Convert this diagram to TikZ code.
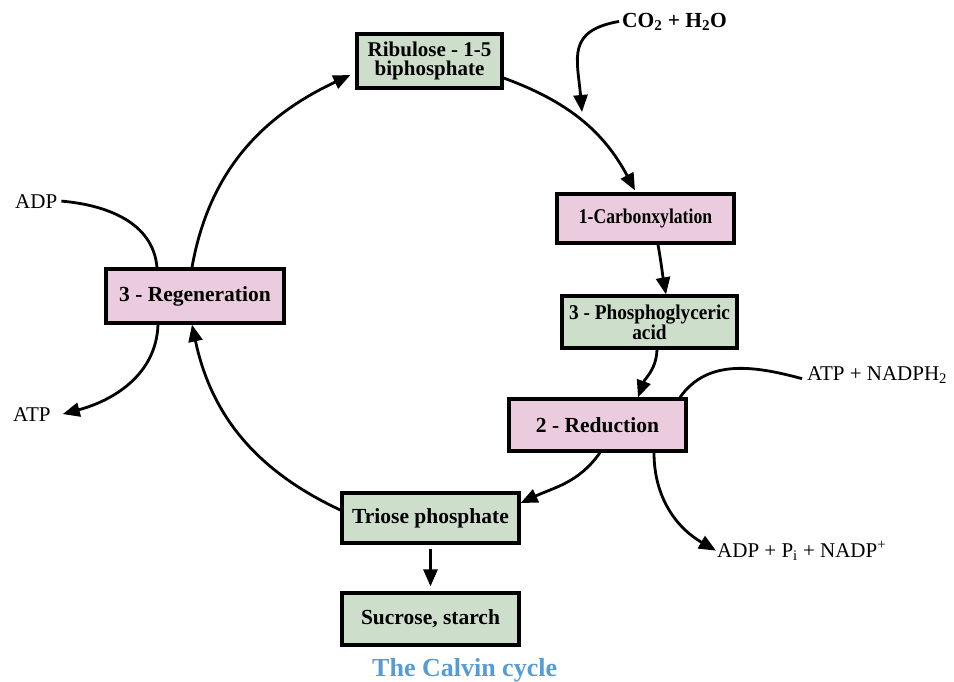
\documentclass[tikz,border=0pt]{standalone}
\usepackage{fontspec}
\setmainfont{Liberation Serif}
\newfontfamily\narrowserif[FakeStretch=0.84]{Liberation Serif}
\newfontfamily\slimserif[FakeStretch=0.92]{Liberation Serif}
\usetikzlibrary{arrows.meta}
\definecolor{leafgreen}{RGB}{205,223,203}
\definecolor{rosepink}{RGB}{234,204,222}
\definecolor{titleblue}{RGB}{84,156,214}

\begin{document}
\begin{tikzpicture}[x=1pt,y=1pt,
  stage/.style={draw=black, line width=3.2pt, inner sep=0pt, align=center,
    font=\fontsize{21.5}{19}\selectfont\bfseries},
  greenbox/.style={stage, fill=leafgreen},
  pinkbox/.style={stage, fill=rosepink},
  flow/.style={line width=2.8pt, -{Triangle[length=17pt,width=14pt]}},
  plainflow/.style={line width=2.8pt},
  lbl/.style={inner sep=0pt, anchor=base west, font=\fontsize{21}{23}\selectfont},
]
\useasboundingbox (0,0) rectangle (954,-681);

% stages of the cycle
\node[greenbox, minimum width=145pt, minimum height=54pt,
  font=\fontsize{21}{19.5}\selectfont\bfseries] (rib) at (429.5,-61)
  {Ribulose - 1-5\\biphosphate};
\node[pinkbox, minimum width=177pt, minimum height=49pt,
  font=\fontsize{21}{19}\narrowserif\bfseries] (carb) at (645.5,-218.5)
  {1-Carbonxylation};
\node[greenbox, minimum width=175pt, minimum height=52pt,
  font=\fontsize{21}{17.5}\slimserif\bfseries] (pga) at (649.5,-322)
  {3 - Phosphoglyceric\\acid};
\node[pinkbox, minimum width=178pt, minimum height=54pt] (regen) at (195,-296)
  {3 - Regeneration};
\node[pinkbox, minimum width=177pt, minimum height=52pt] (red) at (597.5,-425)
  {2 - Reduction};
\node[greenbox, minimum width=177pt, minimum height=50pt] (triose) at (430.5,-518)
  {Triose phosphate};
\node[greenbox, minimum width=177pt, minimum height=52pt] (sucrose) at (430.5,-619)
  {Sucrose, starch};

% inputs and outputs
\node[lbl, font=\fontsize{21.5}{23}\selectfont\bfseries] (co2) at (622,-27)
  {CO\textsubscript{2} + H\textsubscript{2}O};
\node[lbl] (adp) at (15,-208) {ADP};
\node[lbl] (atp) at (13,-421) {ATP};
\node[lbl] (nadph) at (807,-380) {ATP + NADPH\textsubscript{2}};
\node[lbl] (adpi) at (717,-557)
  {ADP + P\textsubscript{i} + NADP\textsuperscript{+}};

% caption
\node[anchor=base west, inner sep=0pt, text=titleblue,
  font=\fontsize{26}{28}\selectfont\bfseries] (title) at (372,-676) {The Calvin cycle};

% where carbon dioxide joins the cycle
\coordinate (co2hit) at (582,-112);

% connectors of the cycle
\draw[flow] ([yshift=-17pt]rib.east) to[out=-20,in=118] ([xshift=-10.5pt,yshift=2pt]carb.north);
\draw[flow] ([xshift=-3pt]co2.west) to[out=190,in=95,looseness=1.4] (co2hit);
\draw[flow] ([xshift=12.5pt]carb.south) to[out=-80,in=100] ([xshift=16.5pt]pga.north);
\draw[flow] ([xshift=7.5pt]pga.south) to[out=-92,in=70] ([xshift=40.5pt]red.north);
\draw[plainflow] ([xshift=82.5pt]red.north) to[out=55,in=165] ([xshift=-5pt,yshift=-4pt]nadph.west);
\draw[flow] ([xshift=56.5pt]red.south) to[out=-90,in=150] ([xshift=-1pt]adpi.west);
\draw[flow] ([xshift=2.5pt]red.south) to[out=-125,in=25] ([yshift=15pt]triose.east);
\draw[flow] ([yshift=8pt]triose.west) to[out=155,in=-78] ([xshift=-3pt]regen.south);
\draw[flow] ([xshift=-3pt]regen.north) to[out=80,in=-155] ([xshift=-5pt,yshift=-14pt]rib.west);
\draw[plainflow] ([xshift=4pt]adp.east) to[out=-5,in=95] ([xshift=-38pt]regen.north);
\draw[flow] ([xshift=-37pt]regen.south) to[out=-92,in=15] ([xshift=12pt]atp.east);
\draw[flow] ([yshift=-4pt]triose.south) -- ([yshift=5pt]sucrose.north);
\end{tikzpicture}
\end{document}
